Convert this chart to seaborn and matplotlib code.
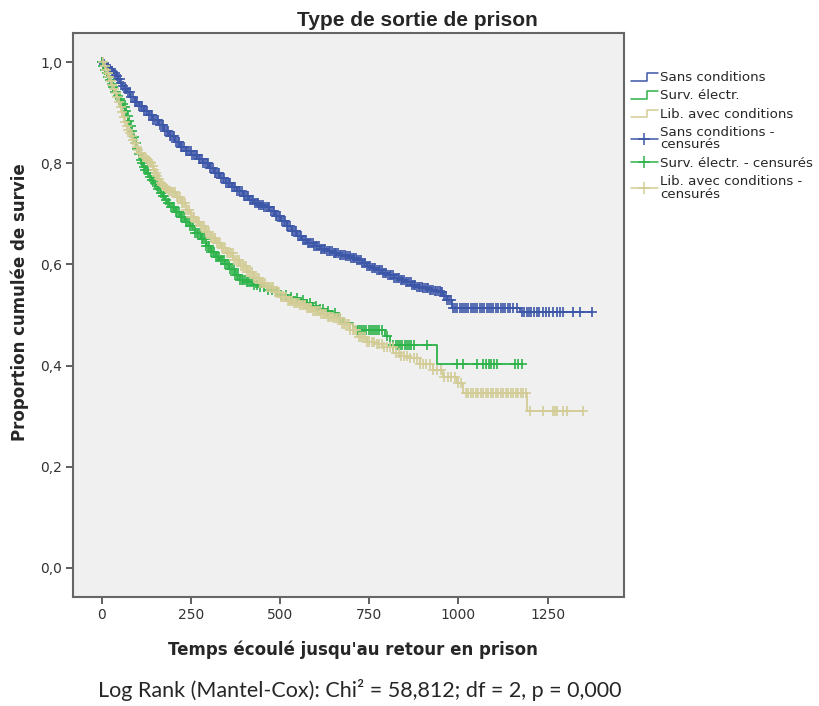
import numpy as np
import pandas as pd
import matplotlib
matplotlib.use("Agg")
import matplotlib.pyplot as plt
from matplotlib.lines import Line2D
from matplotlib.legend_handler import HandlerBase
import seaborn as sns

# ---------------- data ----------------
groups = ["Sans conditions", "Surv. électr.", "Lib. avec conditions"]

blue_t = [0, 5, 10, 15, 20, 26, 33, 39, 45, 52, 58, 64, 70, 79, 92, 105, 118, 132, 145, 160, 175,
          190, 205, 219, 235, 250, 268, 285, 300, 316, 332, 348, 364, 380, 397, 412, 426, 440, 453,
          470, 486, 502, 518, 533, 548, 562, 575, 594, 612, 630, 649, 665, 682, 698, 715, 729, 743,
          757, 771, 787, 803, 820, 836, 852, 867, 883, 900, 916, 932, 948, 958, 968, 981, 1172]
blue_s = [1.0, 0.996, 0.993, 0.990, 0.986, 0.982, 0.978, 0.972, 0.966, 0.959, 0.953, 0.946, 0.940,
          0.932, 0.922, 0.913, 0.904, 0.895, 0.886, 0.875, 0.864, 0.854, 0.843, 0.833, 0.824, 0.817,
          0.809, 0.800, 0.790, 0.780, 0.771, 0.761, 0.753, 0.745, 0.736, 0.728, 0.722, 0.718, 0.714,
          0.705, 0.695, 0.685, 0.675, 0.666, 0.657, 0.649, 0.642, 0.636, 0.631, 0.626, 0.622, 0.619,
          0.616, 0.612, 0.609, 0.603, 0.596, 0.592, 0.589, 0.584, 0.579, 0.574, 0.569, 0.565, 0.560,
          0.556, 0.553, 0.550, 0.548, 0.546, 0.538, 0.530, 0.513, 0.505]

green_t = [0, 4, 8, 12, 16, 20, 25, 29, 33, 37, 42, 47, 52, 56, 61, 65, 70, 74, 79, 83, 88, 92, 97,
           102, 107, 112, 117, 122, 128, 134, 140, 146, 152, 158, 165, 171, 178, 184, 191, 205, 219,
           233, 247, 262, 277, 292, 307, 320, 332, 345, 358, 373, 388, 405, 425, 444, 462, 480, 500,
           518, 537, 556, 575, 593, 612, 631, 649, 663, 677, 705, 715, 795, 808, 939]
green_s = [1.000, 0.992, 0.985, 0.978, 0.970, 0.964, 0.957, 0.951, 0.945, 0.940, 0.934, 0.928,
           0.923, 0.918, 0.912, 0.903, 0.893, 0.884, 0.873, 0.863, 0.851, 0.841, 0.829, 0.818,
           0.807, 0.800, 0.793, 0.787, 0.780, 0.773, 0.767, 0.761, 0.755, 0.749, 0.742, 0.735,
           0.728, 0.721, 0.714, 0.704, 0.694, 0.684, 0.675, 0.662, 0.650, 0.637, 0.625, 0.615,
           0.609, 0.600, 0.590, 0.580, 0.569, 0.565, 0.560, 0.556, 0.550, 0.545, 0.540, 0.536,
           0.533, 0.530, 0.524, 0.518, 0.512, 0.507, 0.504, 0.494, 0.484, 0.477, 0.470, 0.458,
           0.441, 0.403]

tan_t = [0, 5, 10, 14, 19, 24, 28, 33, 38, 42, 47, 52, 56, 61, 66, 70, 75, 79, 84, 88, 93, 98, 102,
         107, 112, 116, 121, 126, 130, 135, 140, 144, 149, 154, 158, 163, 168, 173, 178, 183, 188,
         193, 208, 222, 236, 250, 263, 276, 290, 305, 320, 335, 350, 369, 388, 406, 425, 444, 462,
         481, 500, 518, 537, 556, 575, 593, 612, 631, 649, 672, 696, 715, 743, 766, 789, 817, 840,
         864, 892, 929, 957, 995, 1013, 1191]
tan_s = [1.000, 0.992, 0.984, 0.978, 0.970, 0.962, 0.955, 0.947, 0.939, 0.932, 0.921, 0.911, 0.902,
         0.892, 0.882, 0.873, 0.866, 0.860, 0.853, 0.847, 0.840, 0.833, 0.827, 0.820, 0.816, 0.813,
         0.810, 0.806, 0.803, 0.800, 0.794, 0.787, 0.781, 0.774, 0.768, 0.761, 0.758, 0.755, 0.752,
         0.749, 0.746, 0.743, 0.734, 0.722, 0.707, 0.693, 0.684, 0.675, 0.664, 0.653, 0.642, 0.632,
         0.622, 0.609, 0.597, 0.586, 0.574, 0.563, 0.556, 0.546, 0.536, 0.528, 0.524, 0.520, 0.514,
         0.508, 0.502, 0.497, 0.494, 0.482, 0.470, 0.457, 0.447, 0.442, 0.437, 0.424, 0.419, 0.414,
         0.404, 0.391, 0.378, 0.365, 0.345, 0.311]

end_times = [1373, 1177, 1350]

blue_cens = [2, 6, 11, 15, 19, 24, 29, 33, 38, 42, 47, 51, 55, 60, 65, 69, 73, 78, 83, 87, 92, 96,
             100, 105, 110, 114, 118, 123, 128, 132, 137, 141, 145, 150, 155, 159, 164, 168, 172,
             177, 182, 186, 191, 195, 199, 204, 209, 213, 218, 222, 226, 231, 236, 240, 245, 249,
             253, 258, 263, 267, 272, 276, 280, 285, 290, 294, 299, 303, 307, 312, 317, 321, 326,
             330, 334, 339, 344, 348, 353, 357, 361, 366, 371, 375, 380, 384, 388, 393, 398, 402,
             407, 411, 415, 420, 425, 429, 434, 438, 442, 447, 452, 456, 461, 465, 469, 474, 479,
             483, 488, 492, 496, 501, 506, 510, 515, 519, 523, 528, 533, 537, 542, 546, 550, 555,
             560, 564, 569, 573, 577, 582, 587, 591, 596, 600, 604, 609, 614, 618, 623, 627, 631,
             636, 641, 645, 650, 654, 658, 663, 668, 672, 677, 681, 685, 690, 695, 699, 704, 708,
             712, 717, 722, 726, 731, 735, 739, 744, 749, 753, 758, 762, 766, 771, 776, 780, 785,
             789, 793, 798, 803, 807, 812, 816, 820, 825, 830, 834, 839, 843, 847, 852, 857, 861,
             866, 870, 874, 879, 884, 888, 893, 897, 901, 906, 911, 915, 920, 924, 928, 933, 938,
             942, 947, 951, 955, 960, 965, 969, 974, 978, 985, 991, 997, 1003, 1010, 1016, 1022,
             1028, 1034, 1041, 1047, 1053, 1060, 1066, 1072, 1079, 1085, 1092, 1098, 1105, 1111,
             1118, 1124, 1131, 1138, 1145, 1154, 1165, 1178, 1184, 1191, 1197, 1204, 1211, 1219,
             1227, 1236, 1245, 1255, 1266, 1276, 1284, 1293, 1321, 1341, 1373]
green_cens = [1, 5, 10, 14, 19, 23, 28, 32, 37, 41, 46, 50, 55, 59, 64, 68, 73, 77, 82, 86, 91, 95,
              100, 104, 109, 113, 118, 122, 127, 131, 136, 140, 145, 149, 154, 158, 163, 167, 172,
              176, 181, 185, 190, 194, 199, 203, 208, 212, 217, 221, 226, 230, 235, 239, 244, 248,
              253, 257, 262, 266, 271, 275, 280, 284, 289, 293, 298, 302, 307, 311, 316, 320, 325,
              329, 334, 338, 343, 347, 352, 356, 361, 365, 370, 374, 379, 383, 388, 392, 397, 401,
              406, 410, 415, 421, 428, 436, 445, 455, 466, 478, 490, 503, 517, 532, 548, 565, 583,
              600, 612, 620, 635, 655, 668, 718, 724, 730, 736, 742, 748, 754, 760, 766, 772, 778,
              785, 800, 817, 824, 830, 836, 843, 850, 856, 862, 868, 874, 913, 995, 1013, 1051,
              1070, 1077, 1085, 1092, 1100, 1108, 1158, 1167, 1177]
tan_cens = [3, 8, 12, 17, 21, 26, 30, 35, 39, 44, 48, 53, 57, 62, 66, 71, 75, 80, 84, 89, 93, 98,
            102, 107, 111, 116, 120, 125, 129, 134, 138, 143, 147, 152, 156, 161, 165, 170, 174,
            179, 183, 188, 192, 197, 201, 206, 210, 215, 219, 224, 228, 233, 237, 242, 246, 251,
            255, 260, 264, 269, 273, 278, 282, 287, 291, 296, 300, 305, 309, 314, 318, 323, 327,
            332, 336, 341, 345, 350, 354, 359, 363, 368, 372, 377, 381, 386, 390, 395, 399, 404,
            408, 413, 417, 422, 426, 431, 435, 440, 444, 449, 453, 458, 462, 467, 471, 476, 480,
            485, 489, 494, 498, 503, 507, 512, 516, 521, 525, 530, 534, 539, 543, 548, 552, 557,
            561, 566, 570, 575, 579, 584, 588, 593, 597, 602, 606, 611, 615, 620, 624, 629, 633,
            638, 642, 647, 651, 656, 660, 665, 669, 674, 678, 683, 687, 692, 697, 703, 708, 714,
            720, 726, 732, 738, 744, 750, 757, 764, 771, 778, 785, 792, 800, 808, 816, 824, 832,
            840, 848, 856, 865, 874, 883, 892, 901, 910, 920, 930, 940, 950, 960, 970, 980, 990,
            1000, 1008, 1020, 1027, 1034, 1041, 1048, 1055, 1062, 1069, 1076, 1083, 1090, 1097,
            1104, 1111, 1118, 1125, 1132, 1139, 1146, 1153, 1160, 1167, 1174, 1181, 1189, 1200,
            1237, 1265, 1270, 1276, 1293, 1304, 1350]

x_ticks = [0, 250, 500, 750, 1000, 1250]
y_ticks = [0.0, 0.2, 0.4, 0.6, 0.8, 1.0]
y_tick_labels = ["0,0", "0,2", "0,4", "0,6", "0,8", "1,0"]

title = "Type de sortie de prison"
x_label = "Temps écoulé jusqu'au retour en prison"
y_label = "Proportion cumulée de survie"
footnote = "Log Rank (Mantel-Cox): Chi² = 58,812; df = 2, p = 0,000"

colors = ["#3C56A8", "#2DB34A", "#D3CC96"]

# ---------------- figure ----------------
sns.set_style("white")
plt.rcParams["font.family"] = ["DejaVu Sans"]

fig = plt.figure(figsize=(8.19, 7.06), dpi=100)
W, H = 819, 706
ax = fig.add_axes([73.3 / W, 1 - 596.7 / H, (624 - 73.3) / W, (596.7 - 33.3) / H])
ax.set_facecolor("#F0F0F0")

curves = [(blue_t, blue_s), (green_t, green_s), (tan_t, tan_s)]
cens = [blue_cens, green_cens, tan_cens]

for (t, s), end, col in zip(curves, end_times, colors):
    df = pd.DataFrame({"t": list(t) + [end], "s": list(s) + [s[-1]]})
    sns.lineplot(data=df, x="t", y="s", ax=ax, color=col, linewidth=1.3,
                 drawstyle="steps-post", estimator=None, legend=False)

for (t, s), c, col in zip(curves, cens, colors):
    t_arr = np.asarray(t)
    s_arr = np.asarray(s)
    idx = np.searchsorted(t_arr, np.asarray(c), side="right") - 1
    dfc = pd.DataFrame({"t": c, "s": s_arr[idx]})
    sns.scatterplot(data=dfc, x="t", y="s", ax=ax, marker="+", s=42, color=col,
                    linewidth=1.2, legend=False, zorder=3)

ax.set_xlim(-79.6, 1464)
ax.set_ylim(-0.057, 1.057)
ax.set_xticks(x_ticks)
ax.set_xticklabels([str(v) for v in x_ticks])
ax.set_yticks(y_ticks)
ax.set_yticklabels(y_tick_labels)
ax.set_xlabel("")
ax.set_ylabel("")
ax.tick_params(axis="both", direction="out", length=5, width=1.2, color="#444444",
               labelsize=10, labelcolor="#333333", pad=3,
               bottom=True, left=True, top=False, right=False)
for sp in ax.spines.values():
    sp.set_visible(True)
    sp.set_color("#666666")
    sp.set_linewidth(1.5)

fig.text(417 / W, 1 - 20 / H, title, ha="center", va="center", fontsize=15,
         fontweight="bold", family="Liberation Sans")
fig.text(353 / W, 1 - 650 / H, x_label, ha="center", va="center", fontsize=12,
         fontweight="bold")
fig.text(20 / W, 1 - 302 / H, y_label, ha="center", va="center", fontsize=12,
         fontweight="bold", rotation=90)
fig.text(360 / W, 1 - 690 / H, footnote, ha="center", va="center", fontsize=15.5,
         family="Lato")


class StepHandler(HandlerBase):
    def create_artists(self, legend, orig_handle, xdescent, ydescent, width, height,
                       fontsize, trans):
        x0, y0 = -xdescent, -ydescent
        xm = x0 + width * 0.6
        xs = [x0, xm, xm, x0 + width]
        ys = [y0 + height * 0.05, y0 + height * 0.05, y0 + height * 0.85, y0 + height * 0.85]
        ln = Line2D(xs, ys, color=orig_handle.get_color(), lw=1.1)
        ln.set_transform(trans)
        return [ln]


class StepLine(Line2D):
    pass


handles = [StepLine([], [], color=c) for c in colors]
handles += [Line2D([], [], color=c, marker="+", markersize=9, lw=1.1, markeredgewidth=1.1)
            for c in colors]
labels = groups + ["Sans conditions -\ncensurés", "Surv. électr. - censurés",
                   "Lib. avec conditions -\ncensurés"]
leg = fig.legend(handles, labels, loc="upper left", bbox_to_anchor=(631 / W, 1 - 71 / H),
                 frameon=False, fontsize=9.6, handlelength=2.0, handletextpad=0.2,
                 labelspacing=0.4, borderpad=0, borderaxespad=0,
                 handler_map={StepLine: StepHandler()})
for t in leg.get_texts():
    t.set_linespacing(0.95)

fig.savefig("out.png", dpi=100, facecolor="white")
